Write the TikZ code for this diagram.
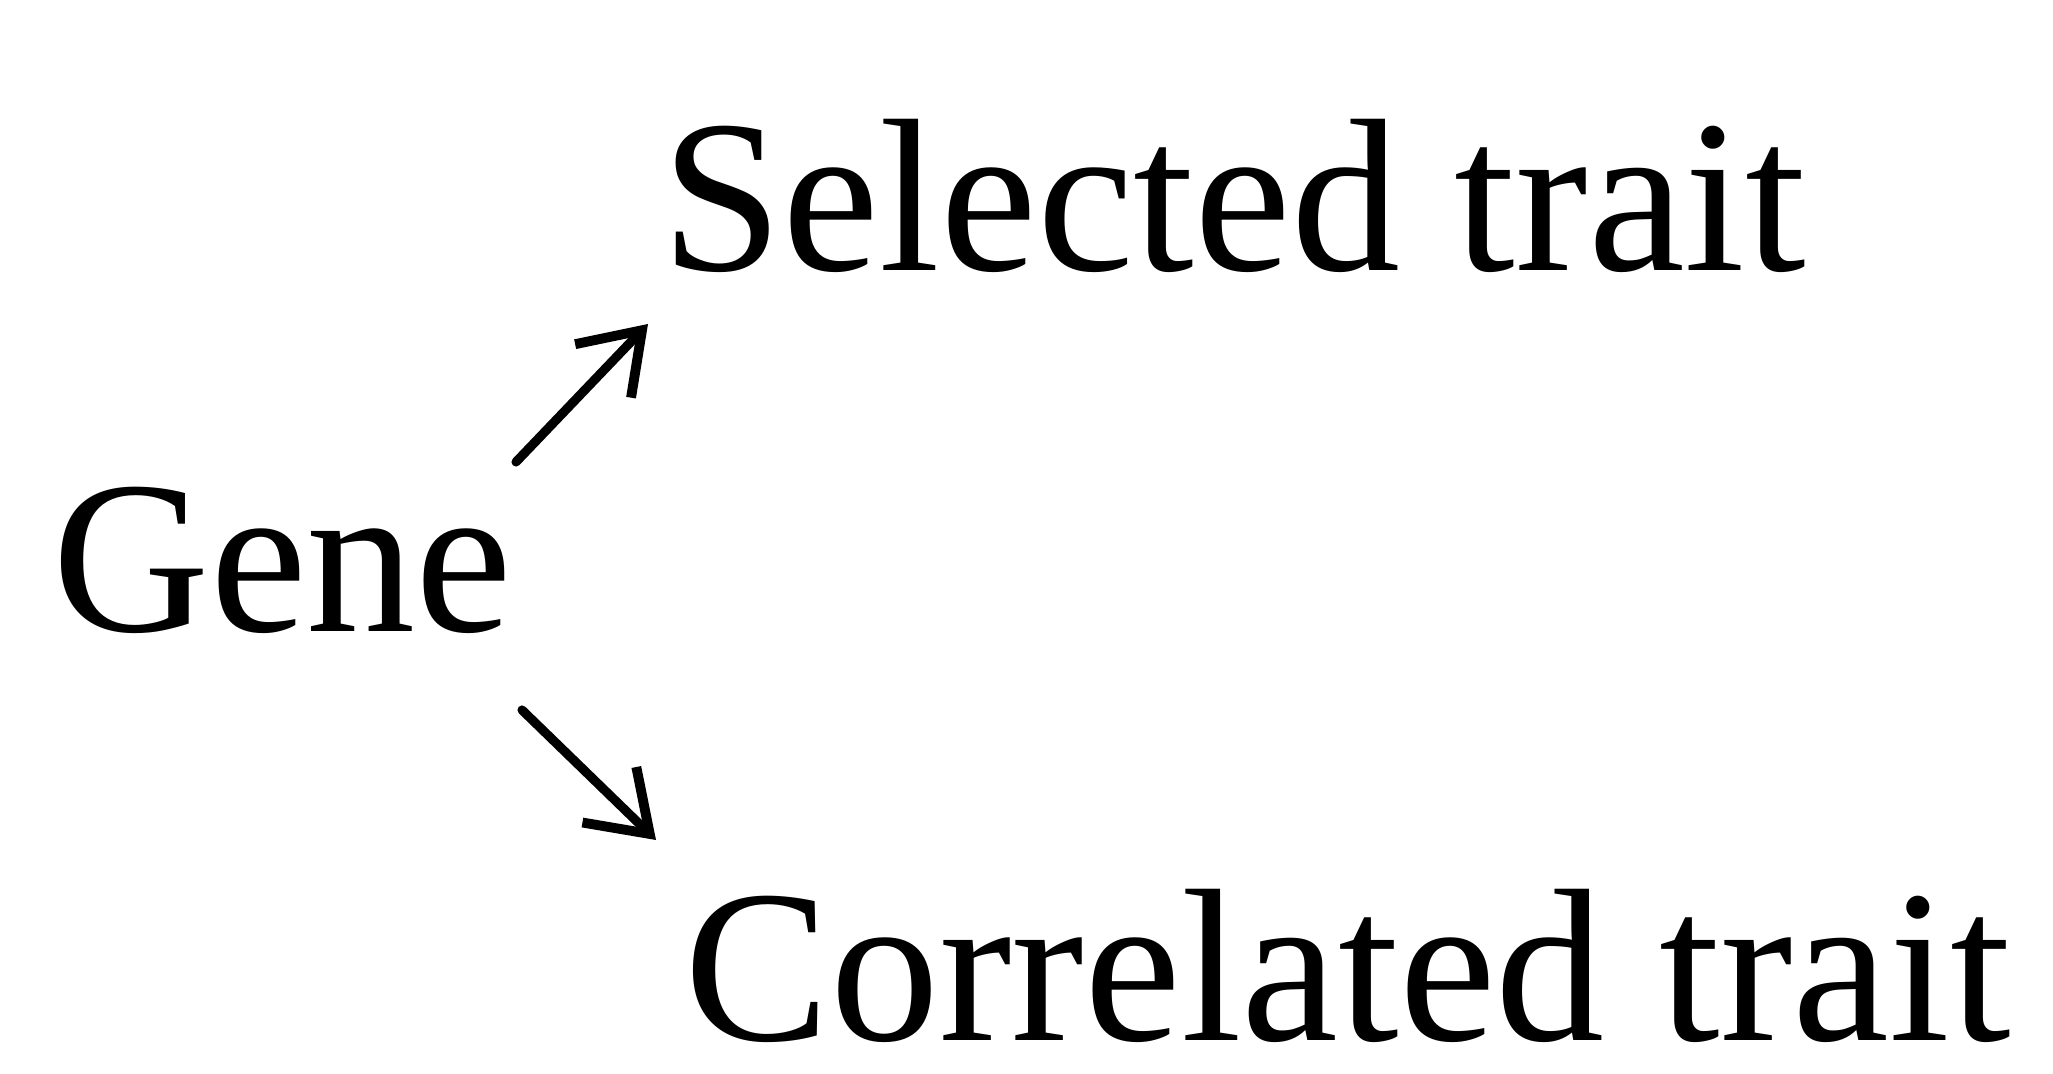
\documentclass[tikz,border=0pt]{standalone}
\usepackage{fontspec}
\setmainfont{Liberation Serif}
\usetikzlibrary{arrows.meta}
\begin{document}
\begin{tikzpicture}[x=0.01cm,y=-0.01cm,
  label text/.style={inner sep=0pt,anchor=base west,font=\fontsize{62}{74}\selectfont},
  link/.style={line width=2.6pt,line cap=round,-{Straight Barb[length=16pt,width=22pt,line width=2.8pt]}}]
  \useasboundingbox (0,0) rectangle (2053,1074);
  \node[label text] (sel) at (661,271) {Selected trait};
  \node[label text] (gene) at (52,632) {Gene};
  \node[label text] (cor) at (684,1041) {Correlated trait};
  % end points of the two arrows leaving the gene
  \coordinate (upstart) at (516,462);
  \coordinate (uptip) at (648,324);
  \coordinate (downstart) at (522,710);
  \coordinate (downtip) at (656,840);
  \draw[link] (upstart) -- (uptip);
  \draw[link] (downstart) -- (downtip);
\end{tikzpicture}
\end{document}
